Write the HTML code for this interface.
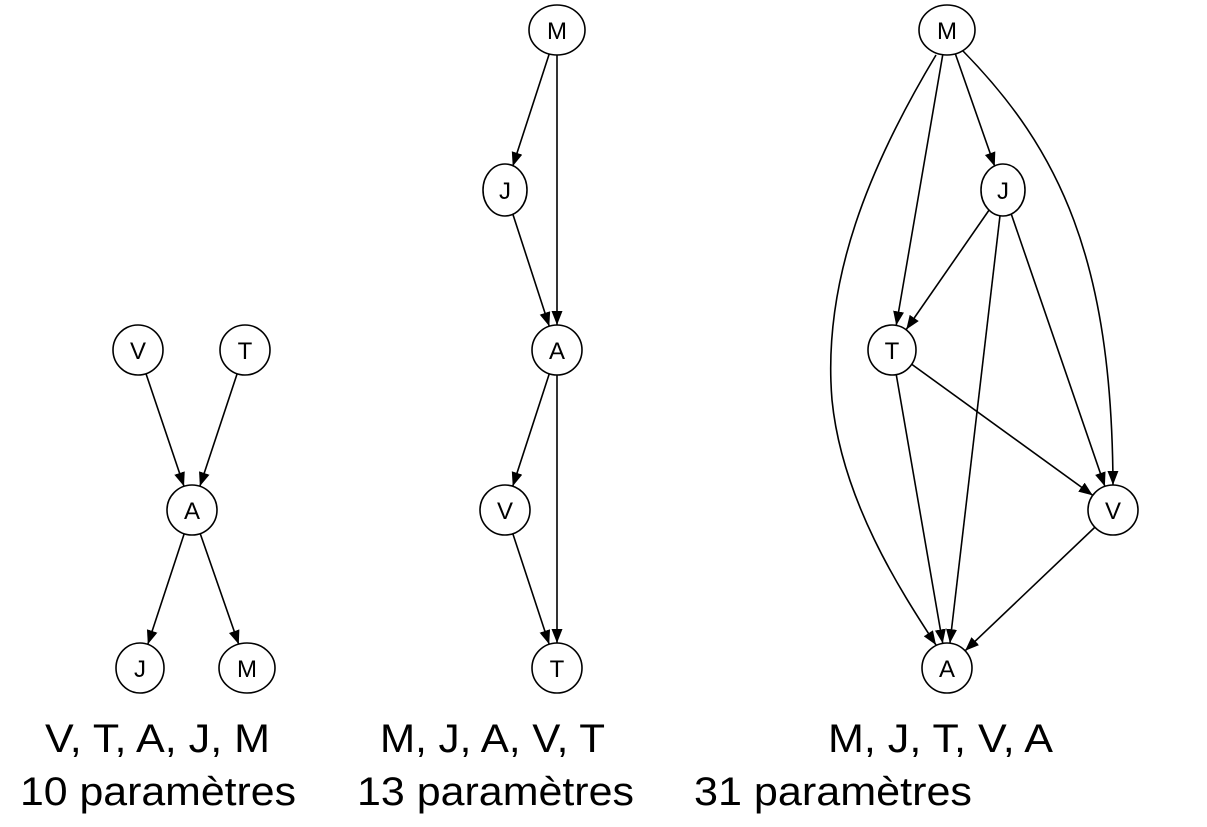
<!DOCTYPE html>
<html><head><meta charset="utf-8"><style>
html,body{margin:0;padding:0;background:#fff;}
svg{display:block;}
</style></head><body>
<svg width="1207" height="827" viewBox="0 0 1207 827" xmlns="http://www.w3.org/2000/svg" font-family="Liberation Sans, sans-serif">
<defs>
<marker id="ah" markerUnits="userSpaceOnUse" markerWidth="16" markerHeight="12" refX="14" refY="5.5" orient="auto">
<path d="M0,0 L14,5.5 L0,11 Z" fill="#000"/>
</marker>
<marker id="ak" markerUnits="userSpaceOnUse" markerWidth="40" markerHeight="12" refX="39" refY="5.5" orient="auto">
<path d="M0,0 L14,5.5 L0,11 Z" fill="#000"/>
</marker>
</defs>
<g stroke="#000" stroke-width="1.6" fill="none">
<path d="M936,55 C870,165 822,280 832,400 C842,500 900,590 936,645" marker-end="url(#ah)"/>
<path d="M963,51 C1060,150 1112,260 1113,485" marker-end="url(#ah)"/>
</g>
<g stroke="#000" stroke-width="1.6" marker-end="url(#ak)">
<line x1="138" y1="350" x2="192" y2="510"/>
<line x1="245" y1="350" x2="192" y2="510"/>
<line x1="192" y1="510" x2="140" y2="668"/>
<line x1="192" y1="510" x2="247" y2="668"/>
<line x1="557" y1="30" x2="505" y2="190"/>
<line x1="557" y1="30" x2="557" y2="350"/>
<line x1="505" y1="190" x2="557" y2="350"/>
<line x1="557" y1="350" x2="505" y2="510"/>
<line x1="557" y1="350" x2="557" y2="668"/>
<line x1="505" y1="510" x2="557" y2="668"/>
<line x1="947" y1="30" x2="1003" y2="190"/>
<line x1="947" y1="30" x2="892" y2="350"/>
<line x1="1003" y1="190" x2="892" y2="350"/>
<line x1="1003" y1="190" x2="947" y2="668"/>
<line x1="1003" y1="190" x2="1113" y2="510"/>
<line x1="892" y1="350" x2="1113" y2="510"/>
<line x1="892" y1="350" x2="947" y2="668"/>
<line x1="1113" y1="510" x2="947" y2="668"/>
</g>
<g fill="#fff" stroke="#000" stroke-width="1.6">
<ellipse cx="138" cy="350" rx="25" ry="25"/>
<ellipse cx="245" cy="350" rx="25" ry="25"/>
<ellipse cx="192" cy="510" rx="25" ry="25"/>
<ellipse cx="140" cy="668" rx="24" ry="25"/>
<ellipse cx="247" cy="668" rx="28" ry="25"/>
<ellipse cx="557" cy="30" rx="28" ry="25"/>
<ellipse cx="505" cy="190" rx="22" ry="26"/>
<ellipse cx="557" cy="350" rx="25" ry="25"/>
<ellipse cx="505" cy="510" rx="25" ry="25"/>
<ellipse cx="557" cy="668" rx="25" ry="25"/>
<ellipse cx="947" cy="30" rx="28" ry="25"/>
<ellipse cx="1003" cy="190" rx="22" ry="26"/>
<ellipse cx="892" cy="350" rx="24" ry="25"/>
<ellipse cx="1113" cy="510" rx="25" ry="25"/>
<ellipse cx="947" cy="668" rx="25" ry="25"/>
</g>
<g font-size="24" text-anchor="middle" fill="#000">
<text x="138" y="359">V</text>
<text x="245" y="359">T</text>
<text x="192" y="519">A</text>
<text x="140" y="677">J</text>
<text x="247" y="677">M</text>
<text x="557" y="39">M</text>
<text x="505" y="199">J</text>
<text x="557" y="359">A</text>
<text x="505" y="519">V</text>
<text x="557" y="677">T</text>
<text x="947" y="39">M</text>
<text x="1003" y="199">J</text>
<text x="892" y="359">T</text>
<text x="1113" y="519">V</text>
<text x="947" y="677">A</text>
</g>
<g font-size="40" fill="#000">
<text x="45" y="752" textLength="225" lengthAdjust="spacingAndGlyphs">V, T, A, J, M</text>
<text x="20" y="805" textLength="276" lengthAdjust="spacingAndGlyphs">10 paramètres</text>
<text x="380" y="752" textLength="225" lengthAdjust="spacingAndGlyphs">M, J, A, V, T</text>
<text x="357" y="805" textLength="277" lengthAdjust="spacingAndGlyphs">13 paramètres</text>
<text x="828" y="752" textLength="225" lengthAdjust="spacingAndGlyphs">M, J, T, V, A</text>
<text x="694" y="805" textLength="278" lengthAdjust="spacingAndGlyphs">31 paramètres</text>
</g>
</svg>
</body></html>
